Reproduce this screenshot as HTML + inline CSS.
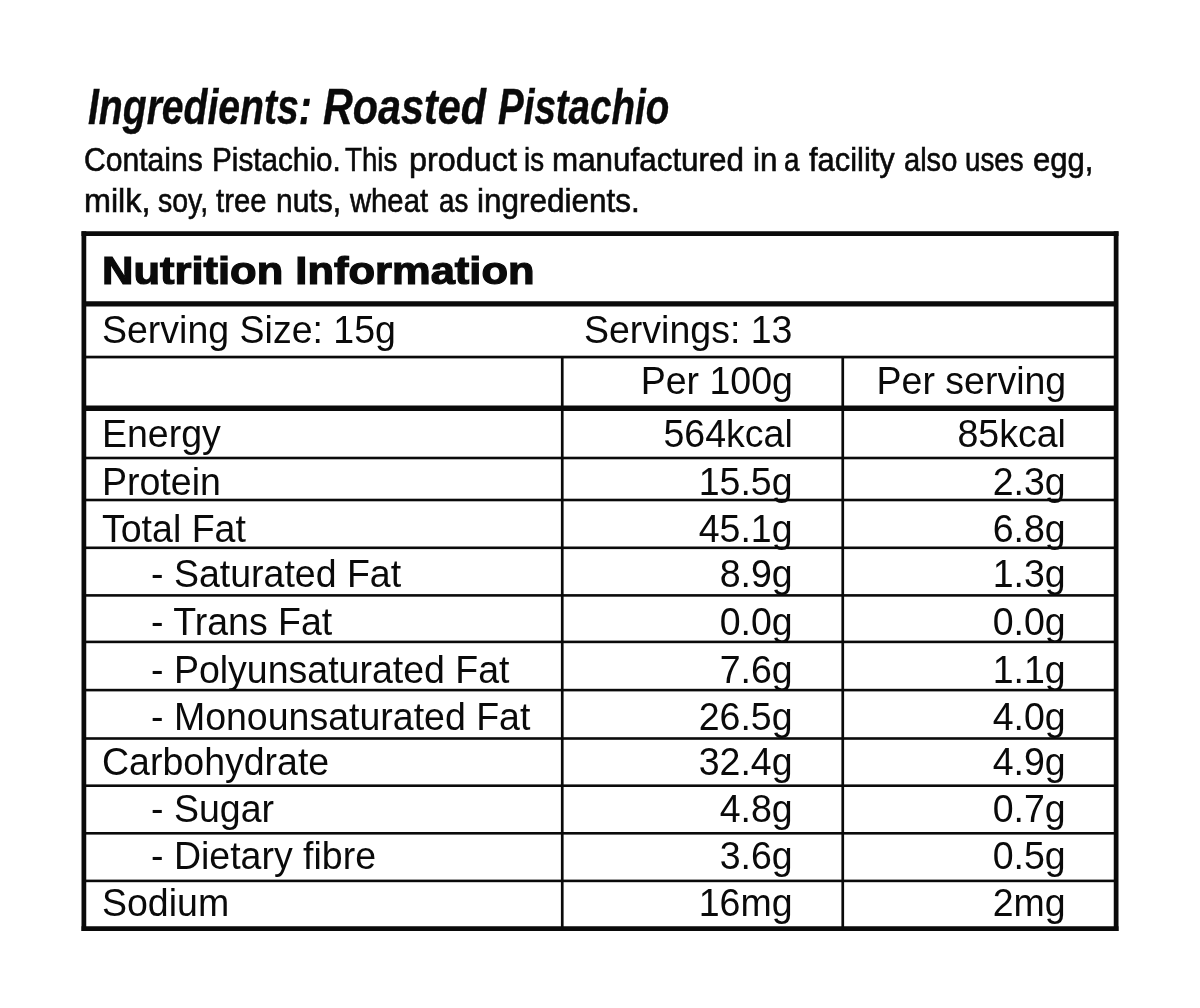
<!DOCTYPE html>
<html lang="en"><head><meta charset="utf-8"><title>Nutrition Information</title>
<style>
html,body{margin:0;padding:0;background:#fff;}
body{width:1200px;height:1008px;position:relative;overflow:hidden;color:#0a0a0a;font-family:"Liberation Sans",sans-serif;}
.l{position:absolute;}
.g{margin:0;padding:0;position:absolute;left:0;top:0;font-size:0;line-height:0;font-weight:normal;}
.x{position:absolute;white-space:nowrap;line-height:1;margin:0;padding:0;}
.a{font-family:"Liberation Sans",sans-serif;}
.b{font-family:"Liberation Sans",sans-serif;-webkit-text-stroke:0.6px #0a0a0a;}
.t{font-family:"Liberation Sans",sans-serif;font-weight:bold;-webkit-text-stroke:1.2px #0a0a0a;}
.h{font-family:"Liberation Sans",sans-serif;font-weight:bold;font-style:italic;-webkit-text-stroke:0.4px #0a0a0a;}
</style></head><body>
<svg class="l" width="1200" height="1008" viewBox="0 0 1200 1008" style="left:0;top:0">
<rect x="81.5" y="231.25" width="1037" height="4.75" fill="#0a0a0a"/>
<rect x="81.5" y="926.25" width="1037" height="4.75" fill="#0a0a0a"/>
<rect x="81.5" y="231.25" width="4.75" height="699.75" fill="#0a0a0a"/>
<rect x="1113.75" y="231.25" width="4.75" height="699.75" fill="#0a0a0a"/>
<rect x="83.5" y="301.25" width="1033" height="5.25" fill="#0a0a0a"/>
<rect x="83.5" y="355.7" width="1033" height="2.7" fill="#0a0a0a"/>
<rect x="83.5" y="405.5" width="1033" height="5.5" fill="#0a0a0a"/>
<rect x="83.5" y="456.7" width="1033" height="2.6" fill="#0a0a0a"/>
<rect x="83.5" y="498.7" width="1033" height="2.6" fill="#0a0a0a"/>
<rect x="83.5" y="546.5" width="1033" height="2.6" fill="#0a0a0a"/>
<rect x="83.5" y="594.1" width="1033" height="2.6" fill="#0a0a0a"/>
<rect x="83.5" y="640.6" width="1033" height="2.6" fill="#0a0a0a"/>
<rect x="83.5" y="688.8" width="1033" height="2.6" fill="#0a0a0a"/>
<rect x="83.5" y="737.2" width="1033" height="2.6" fill="#0a0a0a"/>
<rect x="83.5" y="784.4" width="1033" height="2.6" fill="#0a0a0a"/>
<rect x="83.5" y="832" width="1033" height="2.6" fill="#0a0a0a"/>
<rect x="83.5" y="879.6" width="1033" height="2.6" fill="#0a0a0a"/>
<rect x="560.9" y="357" width="2.7" height="572" fill="#0a0a0a"/>
<rect x="841.4" y="357" width="2.7" height="572" fill="#0a0a0a"/>
</svg>
<h1 class="g"><span class="x h" style="top:82.28px;font-size:50px;left:87.5px;transform:scaleX(0.7821);transform-origin:left top;">Ingredients:</span> <span class="x h" style="top:82.28px;font-size:50px;left:322.5px;transform:scaleX(0.8263);transform-origin:left top;">Roasted</span> <span class="x h" style="top:82.28px;font-size:50px;left:498.3px;transform:scaleX(0.7701);transform-origin:left top;">Pistachio</span></h1>
<p class="g"><span class="x b" style="top:143.37px;font-size:33px;left:84.09px;transform:scaleX(0.9127);transform-origin:left top;">Contains</span> <span class="x b" style="top:143.37px;font-size:33px;left:211.95px;transform:scaleX(0.8999);transform-origin:left top;">Pistachio.</span> <span class="x b" style="top:143.37px;font-size:33px;left:344.65px;transform:scaleX(0.84);transform-origin:left top;">This</span> <span class="x b" style="top:143.37px;font-size:33px;left:408.92px;transform:scaleX(0.98);transform-origin:left top;">product</span> <span class="x b" style="top:143.37px;font-size:33px;left:524.36px;transform:scaleX(0.84);transform-origin:left top;">is</span> <span class="x b" style="top:143.37px;font-size:33px;left:551.85px;transform:scaleX(0.9512);transform-origin:left top;">manufactured</span> <span class="x b" style="top:143.37px;font-size:33px;left:753.1px;transform:scaleX(0.9516);transform-origin:left top;">in</span> <span class="x b" style="top:143.37px;font-size:33px;left:784.48px;transform:scaleX(0.84);transform-origin:left top;">a</span> <span class="x b" style="top:143.37px;font-size:33px;left:808.75px;transform:scaleX(0.9356);transform-origin:left top;">facility</span> <span class="x b" style="top:143.37px;font-size:33px;left:904.12px;transform:scaleX(0.8808);transform-origin:left top;">also</span> <span class="x b" style="top:143.37px;font-size:33px;left:964.84px;transform:scaleX(0.84);transform-origin:left top;">uses</span> <span class="x b" style="top:143.37px;font-size:33px;left:1032.81px;transform:scaleX(0.9417);transform-origin:left top;">egg,</span></p>
<p class="g"><span class="x b" style="top:184.17px;font-size:33px;left:83.73px;transform:scaleX(0.98);transform-origin:left top;">milk,</span> <span class="x b" style="top:184.17px;font-size:33px;left:158px;transform:scaleX(0.8631);transform-origin:left top;">soy,</span> <span class="x b" style="top:184.17px;font-size:33px;left:216.25px;transform:scaleX(0.8872);transform-origin:left top;">tree</span> <span class="x b" style="top:184.17px;font-size:33px;left:275.68px;transform:scaleX(0.9091);transform-origin:left top;">nuts,</span> <span class="x b" style="top:184.17px;font-size:33px;left:349.64px;transform:scaleX(0.8859);transform-origin:left top;">wheat</span> <span class="x b" style="top:184.17px;font-size:33px;left:439.15px;transform:scaleX(0.84);transform-origin:left top;">as</span> <span class="x b" style="top:184.17px;font-size:33px;left:476.84px;transform:scaleX(0.9538);transform-origin:left top;">ingredients.</span></p>
<div class="x t" style="top:252.21px;font-size:38.5px;left:102px;transform:scaleX(1.13);transform-origin:left top;">Nutrition Information</div>
<div class="x a" style="top:310.35px;font-size:39.4px;left:102.2px;transform:scaleX(0.952);transform-origin:left top;">Serving Size: 15g</div>
<div class="x a" style="top:309.85px;font-size:39.4px;left:583.7px;transform:scaleX(0.952);transform-origin:left top;">Servings: 13</div>
<div class="x a" style="top:360.65px;font-size:39.4px;right:406.8px;transform:scaleX(0.952);transform-origin:right top;">Per 100g</div>
<div class="x a" style="top:360.65px;font-size:39.4px;right:133.3px;transform:scaleX(0.952);transform-origin:right top;">Per serving</div>
<div class="x a" style="top:414.45px;font-size:39.4px;left:102.4px;transform:scaleX(0.952);transform-origin:left top;">Energy</div>
<div class="x a" style="top:414.45px;font-size:39.4px;right:407.4px;transform:scaleX(0.952);transform-origin:right top;">564kcal</div>
<div class="x a" style="top:414.45px;font-size:39.4px;right:134.2px;transform:scaleX(0.952);transform-origin:right top;">85kcal</div>
<div class="x a" style="top:462.10px;font-size:39.4px;left:102.4px;transform:scaleX(0.952);transform-origin:left top;">Protein</div>
<div class="x a" style="top:462.10px;font-size:39.4px;right:407.4px;transform:scaleX(0.952);transform-origin:right top;">15.5g</div>
<div class="x a" style="top:462.10px;font-size:39.4px;right:134.2px;transform:scaleX(0.952);transform-origin:right top;">2.3g</div>
<div class="x a" style="top:509.10px;font-size:39.4px;left:102.4px;transform:scaleX(0.952);transform-origin:left top;">Total Fat</div>
<div class="x a" style="top:509.10px;font-size:39.4px;right:407.4px;transform:scaleX(0.952);transform-origin:right top;">45.1g</div>
<div class="x a" style="top:509.10px;font-size:39.4px;right:134.2px;transform:scaleX(0.952);transform-origin:right top;">6.8g</div>
<div class="x a" style="top:554.35px;font-size:39.4px;left:151.3px;transform:scaleX(0.952);transform-origin:left top;">- Saturated Fat</div>
<div class="x a" style="top:554.35px;font-size:39.4px;right:407.4px;transform:scaleX(0.952);transform-origin:right top;">8.9g</div>
<div class="x a" style="top:554.35px;font-size:39.4px;right:134.2px;transform:scaleX(0.952);transform-origin:right top;">1.3g</div>
<div class="x a" style="top:602.35px;font-size:39.4px;left:151.3px;transform:scaleX(0.952);transform-origin:left top;">- Trans Fat</div>
<div class="x a" style="top:602.35px;font-size:39.4px;right:407.4px;transform:scaleX(0.952);transform-origin:right top;">0.0g</div>
<div class="x a" style="top:602.35px;font-size:39.4px;right:134.2px;transform:scaleX(0.952);transform-origin:right top;">0.0g</div>
<div class="x a" style="top:649.85px;font-size:39.4px;left:151.3px;transform:scaleX(0.952);transform-origin:left top;">- Polyunsaturated Fat</div>
<div class="x a" style="top:649.85px;font-size:39.4px;right:407.4px;transform:scaleX(0.952);transform-origin:right top;">7.6g</div>
<div class="x a" style="top:649.85px;font-size:39.4px;right:134.2px;transform:scaleX(0.952);transform-origin:right top;">1.1g</div>
<div class="x a" style="top:696.65px;font-size:39.4px;left:151.3px;transform:scaleX(0.952);transform-origin:left top;">- Monounsaturated Fat</div>
<div class="x a" style="top:696.65px;font-size:39.4px;right:407.4px;transform:scaleX(0.952);transform-origin:right top;">26.5g</div>
<div class="x a" style="top:696.65px;font-size:39.4px;right:134.2px;transform:scaleX(0.952);transform-origin:right top;">4.0g</div>
<div class="x a" style="top:742.35px;font-size:39.4px;left:102.4px;transform:scaleX(0.952);transform-origin:left top;">Carbohydrate</div>
<div class="x a" style="top:742.35px;font-size:39.4px;right:407.4px;transform:scaleX(0.952);transform-origin:right top;">32.4g</div>
<div class="x a" style="top:742.35px;font-size:39.4px;right:134.2px;transform:scaleX(0.952);transform-origin:right top;">4.9g</div>
<div class="x a" style="top:789.15px;font-size:39.4px;left:151.3px;transform:scaleX(0.952);transform-origin:left top;">- Sugar</div>
<div class="x a" style="top:789.15px;font-size:39.4px;right:407.4px;transform:scaleX(0.952);transform-origin:right top;">4.8g</div>
<div class="x a" style="top:789.15px;font-size:39.4px;right:134.2px;transform:scaleX(0.952);transform-origin:right top;">0.7g</div>
<div class="x a" style="top:836.05px;font-size:39.4px;left:151.3px;transform:scaleX(0.952);transform-origin:left top;">- Dietary fibre</div>
<div class="x a" style="top:836.05px;font-size:39.4px;right:407.4px;transform:scaleX(0.952);transform-origin:right top;">3.6g</div>
<div class="x a" style="top:836.05px;font-size:39.4px;right:134.2px;transform:scaleX(0.952);transform-origin:right top;">0.5g</div>
<div class="x a" style="top:883.35px;font-size:39.4px;left:102.4px;transform:scaleX(0.952);transform-origin:left top;">Sodium</div>
<div class="x a" style="top:883.35px;font-size:39.4px;right:407.4px;transform:scaleX(0.952);transform-origin:right top;">16mg</div>
<div class="x a" style="top:883.35px;font-size:39.4px;right:134.2px;transform:scaleX(0.952);transform-origin:right top;">2mg</div>
</body></html>
